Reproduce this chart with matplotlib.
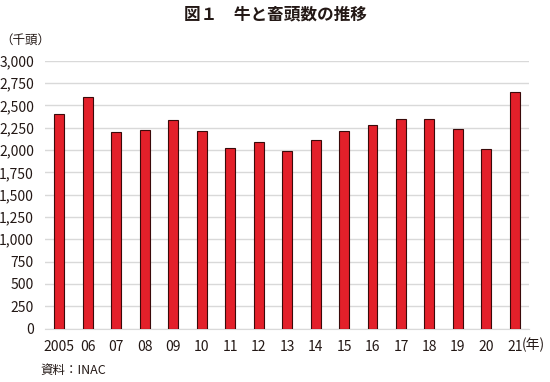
import matplotlib
matplotlib.use("Agg")
import matplotlib.pyplot as plt
from matplotlib.ticker import FuncFormatter

plt.rcParams['font.family'] = ['Noto Sans CJK JP', 'DejaVu Sans']

# 牛と畜頭数（千頭）
years = ["2005", "06", "07", "08", "09", "10", "11", "12", "13",
         "14", "15", "16", "17", "18", "19", "20", "21"]
heads = [2399, 2590, 2198, 2220, 2332, 2209, 2019, 2086, 1988,
         2108, 2209, 2276, 2343, 2343, 2231, 2007, 2646]
yticks = list(range(0, 3001, 250))

fig = plt.figure(figsize=(5.5, 3.82), dpi=100)
ax = fig.add_axes([0.082, 0.14, 0.88, 0.701])

x = range(len(years))
ax.bar(x, heads, width=0.35, color='#e3202a', edgecolor='#3a0a0a', linewidth=0.8, zorder=3)

ax.set_xlim(-0.5, len(years) - 0.5)
ax.set_ylim(0, 3000)
ax.set_yticks(yticks)
ax.yaxis.set_major_formatter(FuncFormatter(lambda v, p: f"{int(v):,}"))
ax.set_xticks(list(x))
ax.set_xticklabels(years)
ax.grid(axis='y', color='#d9d9d9', linewidth=1, zorder=0)
for s in ['top', 'right', 'left']:
    ax.spines[s].set_visible(False)
ax.spines['bottom'].set_color('#d9d9d9')
ax.tick_params(axis='both', length=0, labelsize=10, colors='#231815')
ax.tick_params(axis='x', pad=8)
ax.tick_params(axis='y', pad=8)

fig.text(0.5, 0.962, "図１　牛と畜頭数の推移", ha='center', va='center',
         fontsize=12, fontweight='bold', color='#231815')
fig.text(0.0, 0.895, "（千頭）", ha='left', va='center', fontsize=9, color='#231815')
fig.text(0.949, 0.097, "(年)", ha='left', va='center', fontsize=10, color='#231815')
fig.text(0.073, 0.03, "資料：INAC", ha='left', va='center', fontsize=9, color='#231815')

fig.savefig("out.png", dpi=100)
